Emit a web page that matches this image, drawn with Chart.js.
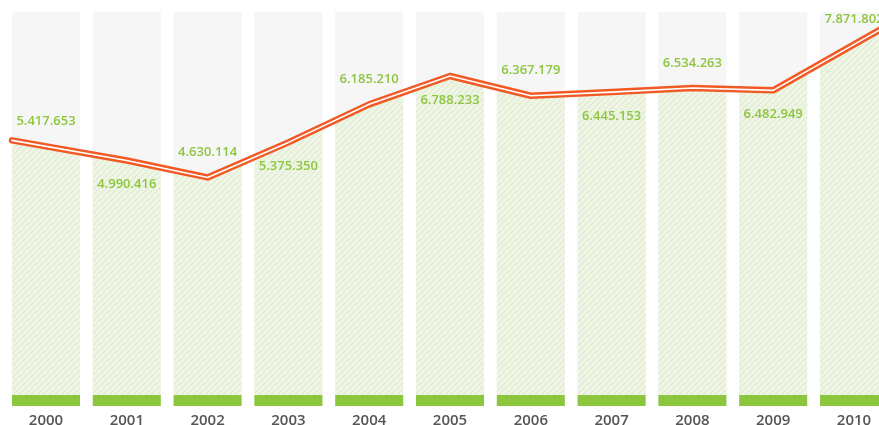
<!DOCTYPE html>
<html lang="pt">
<head>
<meta charset="UTF-8">
<title>2000 - 2010</title>
<style>
    html, body { margin: 0; padding: 0; background: #fff; overflow: hidden; }
    #wrap { width: 900px; height: 425px; }
</style>
</head>
<body>
<div id="wrap"><canvas id="myChart" width="900" height="425"></canvas></div>

<script src="https://cdn.jsdelivr.net/npm/chart.js"></script>
<script>
    // dados
    const years = ['2000', '2001', '2002', '2003', '2004', '2005', '2006', '2007', '2008', '2009', '2010'];
    const values = [5417653, 4990416, 4630114, 5375350, 6185210, 6788233, 6367179, 6445153, 6534263, 6482949, 7871802];
    const yMax = 8150000;
    const columnTops = years.map(() => yMax);

    const GREEN = '#8cc63f';
    const ORANGE = '#f15a24';

    function f_format(n) {
        return String(n).replace(/\B(?=(\d{3})+(?!\d))/g, '.');
    }

    const ctx = document.getElementById('myChart').getContext('2d');

    // hachura verde clara
    function f_hatch() {
        const c = document.createElement('canvas');
        c.width = 6; c.height = 6;
        const x = c.getContext('2d');
        x.fillStyle = '#eff5e5';
        x.fillRect(0, 0, 6, 6);
        x.strokeStyle = '#dce7ca';
        x.lineWidth = 1;
        x.beginPath();
        x.moveTo(0, 6); x.lineTo(6, 0);
        x.moveTo(-1, 1); x.lineTo(1, -1);
        x.moveTo(5, 7); x.lineTo(7, 5);
        x.stroke();
        return ctx.createPattern(c, 'repeat');
    }
    const hatch = f_hatch();

    // y da linha numa posicao x qualquer
    function f_lineY(pts, x) {
        for (let i = 1; i < pts.length; i++) {
            if (x <= pts[i].x) {
                const a = pts[i - 1], b = pts[i];
                return a.y + (b.y - a.y) * (x - a.x) / (b.x - a.x);
            }
        }
        return pts[pts.length - 1].y;
    }

    const columnPlugin = {
        id: 'columns',
        // primeiro e ultimo ponto nas bordas externas das colunas
        afterDatasetUpdate(chart, args) {
            if (args.index === 0) return;
            const bars = chart.getDatasetMeta(0).data;
            const pts = args.meta.data;
            const n = pts.length;
            pts[0].x = bars[0].x - bars[0].width / 2;
            pts[n - 1].x = bars[n - 1].x + bars[n - 1].width / 2;
        },
        beforeDatasetDraw(chart, args) {
            if (args.index !== 1) return;
            const c = chart.ctx;
            const bars = chart.getDatasetMeta(0).data;
            const pts = chart.getDatasetMeta(1).data;
            const bottom = chart.chartArea.bottom;
            c.save();
            c.beginPath();
            bars.forEach(b => c.rect(b.x - b.width / 2, b.y, b.width, b.base - b.y));
            c.clip();
            c.beginPath();
            c.moveTo(pts[0].x, bottom);
            pts.forEach(p => c.lineTo(p.x, p.y));
            c.lineTo(pts[pts.length - 1].x, bottom);
            c.closePath();
            c.fillStyle = hatch;
            c.fill();
            c.restore();
        },
        afterDatasetsDraw(chart) {
            const c = chart.ctx;
            const bars = chart.getDatasetMeta(0).data;
            const pts = chart.getDatasetMeta(1).data;
            const bottom = chart.chartArea.bottom;
            c.save();
            c.fillStyle = GREEN;
            bars.forEach(b => c.fillRect(b.x - b.width / 2, bottom, b.width, 11));

            c.font = '600 13px "Open Sans"';
            c.textAlign = 'center';
            c.textBaseline = 'middle';
            bars.forEach((b, i) => {
                const dy = (i % 2 === 0) ? -25 : 24;
                c.fillText(f_format(values[i]), b.x, f_lineY(pts, b.x) + dy);
            });
            c.restore();
        }
    };

    new Chart(ctx, {
        data: {
            labels: years,
            datasets: [
                {
                    type: 'bar',
                    data: columnTops,
                    backgroundColor: '#f6f6f6',
                    barPercentage: 0.842,
                    categoryPercentage: 1,
                    order: 3
                },
                {
                    type: 'line',
                    data: values,
                    borderColor: ORANGE,
                    borderWidth: 6.5,
                    borderJoinStyle: 'round',
                    borderCapStyle: 'round',
                    pointRadius: 0,
                    tension: 0,
                    clip: false,
                    order: 2
                },
                {
                    type: 'line',
                    data: values,
                    borderColor: '#ffffff',
                    borderWidth: 1.6,
                    borderJoinStyle: 'round',
                    borderCapStyle: 'round',
                    pointRadius: 0,
                    tension: 0,
                    clip: false,
                    order: 1
                }
            ]
        },
        options: {
            responsive: false,
            animation: false,
            devicePixelRatio: 1,
            layout: { padding: { top: 12, left: 5.6, right: 5.6, bottom: 0 } },
            plugins: {
                legend: { display: false },
                tooltip: { enabled: false }
            },
            scales: {
                x: {
                    offset: true,
                    grid: { display: false, drawTicks: false },
                    border: { display: false },
                    ticks: {
                        color: '#555555',
                        padding: 17,
                        font: { family: '"Open Sans"', size: 15, weight: '600' }
                    },
                    afterFit(s) { s.height = 30; }
                },
                y: {
                    display: false,
                    min: 0,
                    max: yMax
                }
            }
        },
        plugins: [columnPlugin]
    });
</script>
</body>
</html>
